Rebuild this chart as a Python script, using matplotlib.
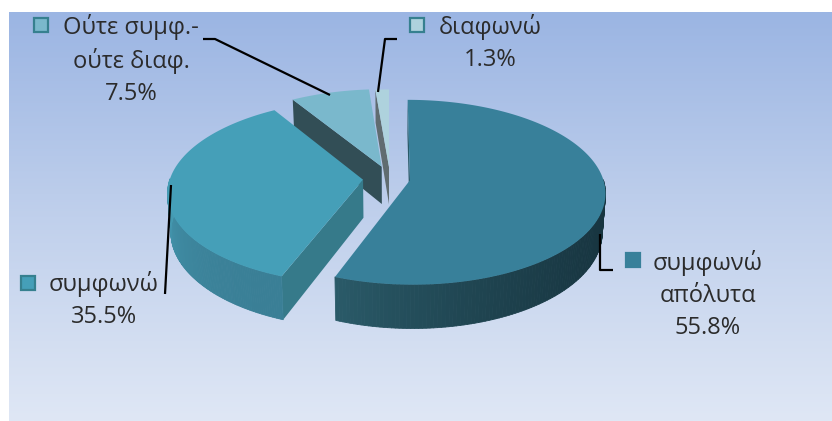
import numpy as np
import matplotlib
matplotlib.use("Agg")
import matplotlib.pyplot as plt
from matplotlib.collections import PolyCollection
from matplotlib.colors import LinearSegmentedColormap, to_rgb
from matplotlib.patches import Polygon, Rectangle

# data
labels = ["συμφωνώ\nαπόλυτα", "συμφωνώ", "Ούτε συμφ.-\nούτε διαφ.", "διαφωνώ"]
values = [55.8, 35.5, 7.5, 1.3]

# style of each slice
top_colors = ["#38809a", "#459fb8", "#7ab8cc", "#aed2dd"]
face_colors = ["#2a5a68", "#367a8a", "#324e56", "#606c70"]
wall_start = ["#17343f", "#3a7f96", "#324e56", "#606c70"]
wall_end = ["#2a5a68", "#459ab2", "#324e56", "#606c70"]
marker_edges = ["#38809a", "#36808f", "#36808f", "#36808f"]
explode = [0.105, 0.14, 0.14, 0.13]

# label placement, pixels
text_pos = [(708, 295), (104, 300), (131, 60), (490, 43)]
marker_pos = [(633, 260), (28, 283), (41, 25), (417, 25)]
leaders = [
    [(613, 270), (600, 270), (600, 234)],
    [(165, 294), (171, 185)],
    [(203, 39), (215, 39), (330, 95)],
    [(397, 39), (385, 39), (378, 92)],
]

# pie projection
x0, y0 = 390, 178.5
B, A, k = 193, 90.4, 0.13
depth = 38


def project(u, v, z=0):
    f = 1 / (1 - k * v)
    return x0 + B * u * f * (1 - 0.015 * z), y0 + (A * v + z * depth) * f


fig = plt.figure(figsize=(8.32, 4.21), dpi=100)
ax = fig.add_axes([0, 0, 1, 1])
ax.set_xlim(0, 832)
ax.set_ylim(421, 0)
ax.axis("off")

# background
bg = LinearSegmentedColormap.from_list("bg", ["#9bb5e3", "#c0d0ec", "#dfe7f5"])
ax.imshow(np.linspace(0, 1, 256).reshape(-1, 1), cmap=bg, aspect="auto",
          extent=(9, 832, 421, 12), zorder=0)
ax.set_xlim(0, 832)
ax.set_ylim(421, 0)

# angles clockwise from 12 o'clock
fractions = np.array(values) / sum(values)
ends = np.cumsum(fractions) * 2 * np.pi
starts = ends - fractions * 2 * np.pi


def draw_slice(i, z):
    a0, a1 = starts[i], ends[i]
    mid = (a0 + a1) / 2
    ou = explode[i] * np.sin(mid)
    ov = -explode[i] * np.cos(mid)
    th = np.linspace(a0, a1, 200)
    us = ou + np.sin(th)
    vs = ov - np.cos(th)

    # side face along the starting edge
    corner = (ou + np.sin(a0), ov - np.cos(a0))
    ax.add_patch(Polygon([project(*corner), project(ou, ov),
                          project(ou, ov, 1), project(*corner, 1)],
                         closed=True, fc=face_colors[i], ec="none", zorder=z))

    # outer wall, front part only
    front = np.where(np.cos(th) < 0.02)[0]
    if len(front) > 1:
        quads = []
        cols = []
        c0 = np.array(to_rgb(wall_start[i]))
        c1 = np.array(to_rgb(wall_end[i]))
        for n, j in enumerate(front[:-1]):
            quads.append([project(us[j], vs[j]), project(us[j + 1], vs[j + 1]),
                          project(us[j + 1], vs[j + 1], 1), project(us[j], vs[j], 1)])
            t = (n / (len(front) - 2)) ** 2
            cols.append(c0 + (c1 - c0) * t)
        ax.add_collection(PolyCollection(quads, facecolors=cols, edgecolors=cols,
                                         linewidths=0.6, zorder=z))

    # top face
    pts = [project(ou, ov)] + [project(u, v) for u, v in zip(us, vs)]
    ax.add_patch(Polygon(pts, closed=True, fc=top_colors[i], ec="none", zorder=z + 0.5))


for z, i in enumerate([2, 3, 1, 0]):
    draw_slice(i, 2 + z)

for path in leaders:
    ax.plot(*zip(*path), color="black", lw=1.6, zorder=8, solid_capstyle="butt")

for i in range(len(values)):
    mx, my = marker_pos[i]
    ax.add_patch(Rectangle((mx - 7, my - 7), 14, 14, fc=top_colors[i],
                           ec=marker_edges[i], lw=1.6, zorder=9))
    ax.text(*text_pos[i], f"{labels[i]}\n{values[i]:.1f}%", ha="center", va="center",
            ma="center", fontsize=17, family="Open Sans", color="#2b2b2b",
            linespacing=1.42, zorder=9)

fig.savefig("out.png", dpi=100)
